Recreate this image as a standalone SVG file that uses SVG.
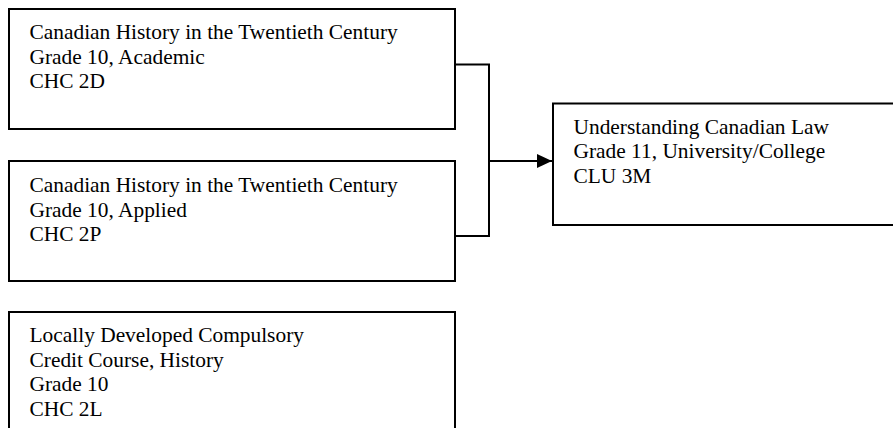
<svg xmlns="http://www.w3.org/2000/svg" width="893" height="428" viewBox="0 0 893 428">
  <style>
    .box { fill: #ffffff; stroke: #000000; stroke-width: 2; }
    .lbl { font-family: "Liberation Serif", "Times New Roman", serif; font-size: 21.4px; fill: #000000; }
    .wire { fill: none; stroke: #000000; stroke-width: 2; }
  </style>
  <defs>
    <marker id="arrow" markerUnits="userSpaceOnUse" markerWidth="15" markerHeight="14" refX="15" refY="7" orient="auto">
      <polygon points="0,0 15,7 0,14" fill="#000000"/>
    </marker>
  </defs>
  <rect width="893" height="428" fill="#ffffff"/>

  <!-- connectors -->
  <g id="connectors">
    <path class="wire" d="M455,64.5 H489 V236 H455"/>
    <path class="wire" d="M489,161 H552" marker-end="url(#arrow)"/>
  </g>

  <g id="chc2d">
    <rect class="box" x="9" y="9" width="446" height="120"/>
    <text class="lbl" x="29.5" y="39">
      <tspan x="29.5">Canadian History in the Twentieth Century</tspan>
      <tspan x="29.5" dy="24.6">Grade 10, Academic</tspan>
      <tspan x="29.5" dy="24.6">CHC 2D</tspan>
    </text>
  </g>

  <g id="chc2p">
    <rect class="box" x="9" y="161" width="446" height="120"/>
    <text class="lbl" x="29.5" y="192">
      <tspan x="29.5">Canadian History in the Twentieth Century</tspan>
      <tspan x="29.5" dy="24.6">Grade 10, Applied</tspan>
      <tspan x="29.5" dy="24.6">CHC 2P</tspan>
    </text>
  </g>

  <g id="chc2l">
    <rect class="box" x="9" y="312" width="446" height="140"/>
    <text class="lbl" x="29.5" y="342">
      <tspan x="29.5">Locally Developed Compulsory</tspan>
      <tspan x="29.5" dy="24.6">Credit Course, History</tspan>
      <tspan x="29.5" dy="24.6">Grade 10</tspan>
      <tspan x="29.5" dy="24.6">CHC 2L</tspan>
    </text>
  </g>

  <g id="clu3m">
    <rect class="box" x="553" y="103.5" width="360" height="121.5"/>
    <text class="lbl" x="573.5" y="133.5">
      <tspan x="573.5">Understanding Canadian Law</tspan>
      <tspan x="573.5" dy="24.6">Grade 11, University/College</tspan>
      <tspan x="573.5" dy="24.6">CLU 3M</tspan>
    </text>
  </g>
</svg>
